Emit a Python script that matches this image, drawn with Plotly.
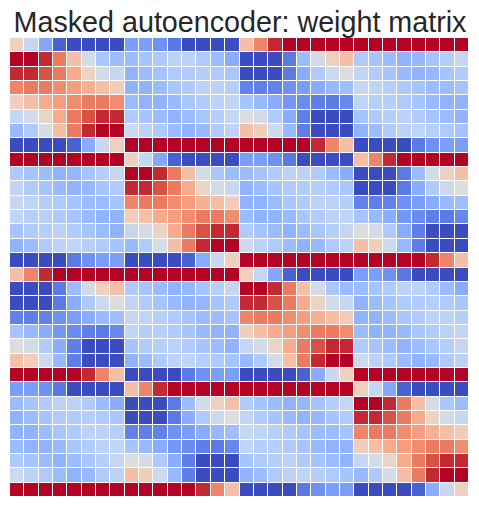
import plotly.graph_objects as go

# Weight matrix (32x32), clipped to [-1, 1]
row_00 = [0.15, -0.17, -0.55, -0.9, -1, -1, -1, -1, -0.6, -0.6, -0.67, -0.8, -1, -1, -1, -1, 0.28, 0.6, 0.92, 1, 1, 1, 1, 1, 1, 1, 1, 1, 1, 1, 1, 1]
row_01 = [1, 1, 0.92, 0.64, 0.28, -0.07, -0.34, -0.42, -0.42, -0.36, -0.3, -0.22, -0.22, -0.3, -0.42, -0.52, -1, -1, -1, -0.79, -0.42, -0.07, 0.15, 0.28, -0.3, -0.36, -0.42, -0.48, -0.45, -0.36, -0.26, -0.16]
row_02 = [0.92, 0.92, 0.8, 0.64, 0.41, 0.12, -0.07, -0.15, -0.48, -0.42, -0.36, -0.3, -0.29, -0.26, -0.3, -0.34, -1, -1, -1, -0.79, -0.52, -0.3, -0.12, 0, -0.18, -0.29, -0.35, -0.43, -0.48, -0.45, -0.36, -0.3]
row_03 = [0.6, 0.64, 0.64, 0.56, 0.48, 0.38, 0.28, 0.18, -0.48, -0.48, -0.42, -0.34, -0.3, -0.22, -0.22, -0.26, -0.75, -0.77, -0.75, -0.67, -0.61, -0.52, -0.44, -0.4, -0.16, -0.2, -0.26, -0.3, -0.36, -0.42, -0.42, -0.36]
row_04 = [0.17, 0.28, 0.41, 0.48, 0.56, 0.64, 0.64, 0.56, -0.42, -0.48, -0.48, -0.44, -0.34, -0.29, -0.22, -0.2, -0.36, -0.44, -0.52, -0.64, -0.7, -0.77, -0.79, -0.72, -0.2, -0.26, -0.26, -0.3, -0.36, -0.44, -0.48, -0.48]
row_05 = [-0.16, -0.07, 0.11, 0.41, 0.64, 0.8, 0.92, 0.92, -0.3, -0.36, -0.42, -0.48, -0.42, -0.34, -0.26, -0.16, 0, -0.07, -0.3, -0.52, -0.77, -1, -1, -1, -0.36, -0.3, -0.26, -0.22, -0.3, -0.36, -0.42, -0.48]
row_06 = [-0.44, -0.3, -0.07, 0.28, 0.64, 0.92, 1, 1, -0.12, -0.22, -0.3, -0.42, -0.48, -0.44, -0.3, -0.22, 0.28, 0.17, -0.12, -0.44, -0.77, -1, -1, -1, -0.48, -0.42, -0.3, -0.22, -0.2, -0.26, -0.3, -0.36]
row_07 = [-1, -1, -1, -1, -0.9, -0.52, -0.14, 0.15, 1, 1, 1, 1, 1, 1, 1, 1, 1, 1, 1, 1, 1, 0.92, 0.6, 0.28, -1, -1, -1, -1, -0.79, -0.67, -0.6, -0.6]
row_08 = [1, 1, 1, 1, 1, 1, 1, 1, 0.15, -0.17, -0.55, -0.9, -1, -1, -1, -1, -0.6, -0.6, -0.67, -0.8, -1, -1, -1, -1, 0.28, 0.6, 0.92, 1, 1, 1, 1, 1]
row_09 = [-0.3, -0.36, -0.42, -0.48, -0.45, -0.36, -0.26, -0.16, 1, 1, 0.92, 0.64, 0.28, -0.07, -0.34, -0.42, -0.42, -0.36, -0.3, -0.22, -0.22, -0.3, -0.42, -0.52, -1, -1, -1, -0.79, -0.42, -0.07, 0.15, 0.28]
row_10 = [-0.18, -0.29, -0.35, -0.43, -0.48, -0.45, -0.36, -0.3, 0.92, 0.92, 0.8, 0.64, 0.41, 0.12, -0.07, -0.15, -0.48, -0.42, -0.36, -0.3, -0.29, -0.26, -0.3, -0.34, -1, -1, -1, -0.79, -0.52, -0.3, -0.12, 0]
row_11 = [-0.16, -0.2, -0.26, -0.3, -0.36, -0.42, -0.42, -0.36, 0.6, 0.64, 0.64, 0.56, 0.48, 0.38, 0.28, 0.18, -0.48, -0.48, -0.42, -0.34, -0.3, -0.22, -0.22, -0.26, -0.75, -0.77, -0.75, -0.67, -0.61, -0.52, -0.44, -0.4]
row_12 = [-0.2, -0.26, -0.26, -0.3, -0.36, -0.44, -0.48, -0.48, 0.17, 0.28, 0.41, 0.48, 0.56, 0.64, 0.64, 0.56, -0.42, -0.48, -0.48, -0.44, -0.34, -0.29, -0.22, -0.2, -0.36, -0.44, -0.52, -0.64, -0.7, -0.77, -0.79, -0.72]
row_13 = [-0.36, -0.3, -0.26, -0.22, -0.3, -0.36, -0.42, -0.48, -0.16, -0.07, 0.11, 0.41, 0.64, 0.8, 0.92, 0.92, -0.3, -0.36, -0.42, -0.48, -0.42, -0.34, -0.26, -0.16, 0, -0.07, -0.3, -0.52, -0.77, -1, -1, -1]
row_14 = [-0.48, -0.42, -0.3, -0.22, -0.2, -0.26, -0.3, -0.36, -0.44, -0.3, -0.07, 0.28, 0.64, 0.92, 1, 1, -0.12, -0.22, -0.3, -0.42, -0.48, -0.44, -0.3, -0.22, 0.28, 0.17, -0.12, -0.44, -0.77, -1, -1, -1]
row_15 = [-1, -1, -1, -1, -0.79, -0.67, -0.6, -0.6, -1, -1, -1, -1, -0.9, -0.52, -0.14, 0.15, 1, 1, 1, 1, 1, 1, 1, 1, 1, 1, 1, 1, 1, 0.92, 0.6, 0.28]
row_16 = [0.28, 0.6, 0.92, 1, 1, 1, 1, 1, 1, 1, 1, 1, 1, 1, 1, 1, 0.15, -0.17, -0.55, -0.9, -1, -1, -1, -1, -0.6, -0.6, -0.67, -0.8, -1, -1, -1, -1]
row_17 = [-1, -1, -1, -0.79, -0.42, -0.07, 0.15, 0.28, -0.3, -0.36, -0.42, -0.48, -0.45, -0.36, -0.26, -0.16, 1, 1, 0.92, 0.64, 0.28, -0.07, -0.34, -0.42, -0.42, -0.36, -0.3, -0.22, -0.22, -0.3, -0.42, -0.52]
row_18 = [-1, -1, -1, -0.79, -0.52, -0.3, -0.12, 0, -0.18, -0.29, -0.35, -0.43, -0.48, -0.45, -0.36, -0.3, 0.92, 0.92, 0.8, 0.64, 0.41, 0.12, -0.07, -0.15, -0.48, -0.42, -0.36, -0.3, -0.29, -0.26, -0.3, -0.34]
row_19 = [-0.75, -0.77, -0.75, -0.67, -0.61, -0.52, -0.44, -0.4, -0.16, -0.2, -0.26, -0.3, -0.36, -0.42, -0.42, -0.36, 0.6, 0.64, 0.64, 0.56, 0.48, 0.38, 0.28, 0.18, -0.48, -0.48, -0.42, -0.34, -0.3, -0.22, -0.22, -0.26]
row_20 = [-0.36, -0.44, -0.52, -0.64, -0.7, -0.77, -0.79, -0.72, -0.2, -0.26, -0.26, -0.3, -0.36, -0.44, -0.48, -0.48, 0.17, 0.28, 0.41, 0.48, 0.56, 0.64, 0.64, 0.56, -0.42, -0.48, -0.48, -0.44, -0.34, -0.29, -0.22, -0.2]
row_21 = [0, -0.07, -0.3, -0.52, -0.77, -1, -1, -1, -0.36, -0.3, -0.26, -0.22, -0.3, -0.36, -0.42, -0.48, -0.16, -0.07, 0.11, 0.41, 0.64, 0.8, 0.92, 0.92, -0.3, -0.36, -0.42, -0.48, -0.42, -0.34, -0.26, -0.16]
row_22 = [0.28, 0.17, -0.12, -0.44, -0.77, -1, -1, -1, -0.48, -0.42, -0.3, -0.22, -0.2, -0.26, -0.3, -0.36, -0.44, -0.3, -0.07, 0.28, 0.64, 0.92, 1, 1, -0.12, -0.22, -0.3, -0.42, -0.48, -0.44, -0.3, -0.22]
row_23 = [1, 1, 1, 1, 1, 0.92, 0.6, 0.28, -1, -1, -1, -1, -0.79, -0.67, -0.6, -0.6, -1, -1, -1, -1, -0.9, -0.52, -0.14, 0.15, 1, 1, 1, 1, 1, 1, 1, 1]
row_24 = [-0.6, -0.6, -0.67, -0.8, -1, -1, -1, -1, 0.28, 0.6, 0.92, 1, 1, 1, 1, 1, 1, 1, 1, 1, 1, 1, 1, 1, 0.15, -0.17, -0.55, -0.9, -1, -1, -1, -1]
row_25 = [-0.42, -0.36, -0.3, -0.22, -0.22, -0.3, -0.42, -0.52, -1, -1, -1, -0.79, -0.42, -0.07, 0.15, 0.28, -0.3, -0.36, -0.42, -0.48, -0.45, -0.36, -0.26, -0.16, 1, 1, 0.92, 0.64, 0.28, -0.07, -0.34, -0.42]
row_26 = [-0.48, -0.42, -0.36, -0.3, -0.29, -0.26, -0.3, -0.34, -1, -1, -1, -0.79, -0.52, -0.3, -0.12, 0, -0.18, -0.29, -0.35, -0.43, -0.48, -0.45, -0.36, -0.3, 0.92, 0.92, 0.8, 0.64, 0.41, 0.12, -0.07, -0.15]
row_27 = [-0.48, -0.48, -0.42, -0.34, -0.3, -0.22, -0.22, -0.26, -0.75, -0.77, -0.75, -0.67, -0.61, -0.52, -0.44, -0.4, -0.16, -0.2, -0.26, -0.3, -0.36, -0.42, -0.42, -0.36, 0.6, 0.64, 0.64, 0.56, 0.48, 0.38, 0.28, 0.18]
row_28 = [-0.42, -0.48, -0.48, -0.44, -0.34, -0.29, -0.22, -0.2, -0.36, -0.44, -0.52, -0.64, -0.7, -0.77, -0.79, -0.72, -0.2, -0.26, -0.26, -0.3, -0.36, -0.44, -0.48, -0.48, 0.17, 0.28, 0.41, 0.48, 0.56, 0.64, 0.64, 0.56]
row_29 = [-0.3, -0.36, -0.42, -0.48, -0.42, -0.34, -0.26, -0.16, 0, -0.07, -0.3, -0.52, -0.77, -1, -1, -1, -0.36, -0.3, -0.26, -0.22, -0.3, -0.36, -0.42, -0.48, -0.16, -0.07, 0.11, 0.41, 0.64, 0.8, 0.92, 0.92]
row_30 = [-0.12, -0.22, -0.3, -0.42, -0.48, -0.44, -0.3, -0.22, 0.28, 0.17, -0.12, -0.44, -0.77, -1, -1, -1, -0.48, -0.42, -0.3, -0.22, -0.2, -0.26, -0.3, -0.36, -0.44, -0.3, -0.07, 0.28, 0.64, 0.92, 1, 1]
row_31 = [1, 1, 1, 1, 1, 1, 1, 1, 1, 1, 1, 1, 1, 0.92, 0.6, 0.28, -1, -1, -1, -1, -0.79, -0.67, -0.6, -0.6, -1, -1, -1, -1, -0.9, -0.52, -0.14, 0.15]

weights = [
    row_00, row_01, row_02, row_03, row_04, row_05, row_06, row_07,
    row_08, row_09, row_10, row_11, row_12, row_13, row_14, row_15,
    row_16, row_17, row_18, row_19, row_20, row_21, row_22, row_23,
    row_24, row_25, row_26, row_27, row_28, row_29, row_30, row_31,
]

# matplotlib "coolwarm"
COOLWARM = [
    [0.0, "#3b4cc0"], [0.0625, "#4d68d7"], [0.125, "#6282ea"], [0.1875, "#779af7"],
    [0.25, "#8db0fe"], [0.3125, "#a3c2fe"], [0.375, "#b8d0f9"], [0.4375, "#ccd9ee"],
    [0.5, "#dddddd"], [0.5625, "#ecd3c5"], [0.625, "#f5c4ad"], [0.6875, "#f7b194"],
    [0.75, "#f49a7b"], [0.8125, "#ec7f63"], [0.875, "#de604d"], [0.9375, "#cb3e38"],
    [1.0, "#b40426"],
]

W, H = 479, 507

fig = go.Figure(go.Heatmap(
    z=weights,
    colorscale=COOLWARM,
    zmin=-1, zmax=1,
    xgap=1, ygap=1,
    showscale=False,
    hovertemplate="row %{y}, col %{x}: %{z:.2f}<extra></extra>",
))
fig.update_layout(
    width=W, height=H,
    margin=dict(l=10, r=10, t=38, b=10),
    paper_bgcolor="white", plot_bgcolor="white",
    title=dict(
        text="Masked autoencoder: weight matrix",
        x=240 / W, xanchor="center", y=1 - 22 / H, yanchor="middle", yref="container",
        font=dict(family="Liberation Sans, Arial, sans-serif", size=28.7, color="#262626"),
    ),
)
fig.update_xaxes(visible=False, range=[-0.5, 31.5])
fig.update_yaxes(visible=False, range=[31.5, -0.5])
# drop the page's default body margin so the figure sits at the window corner
fig.write_html(
    "out.html",
    config={"displayModeBar": False},
    post_script="document.body.style.margin = '0';",
)
